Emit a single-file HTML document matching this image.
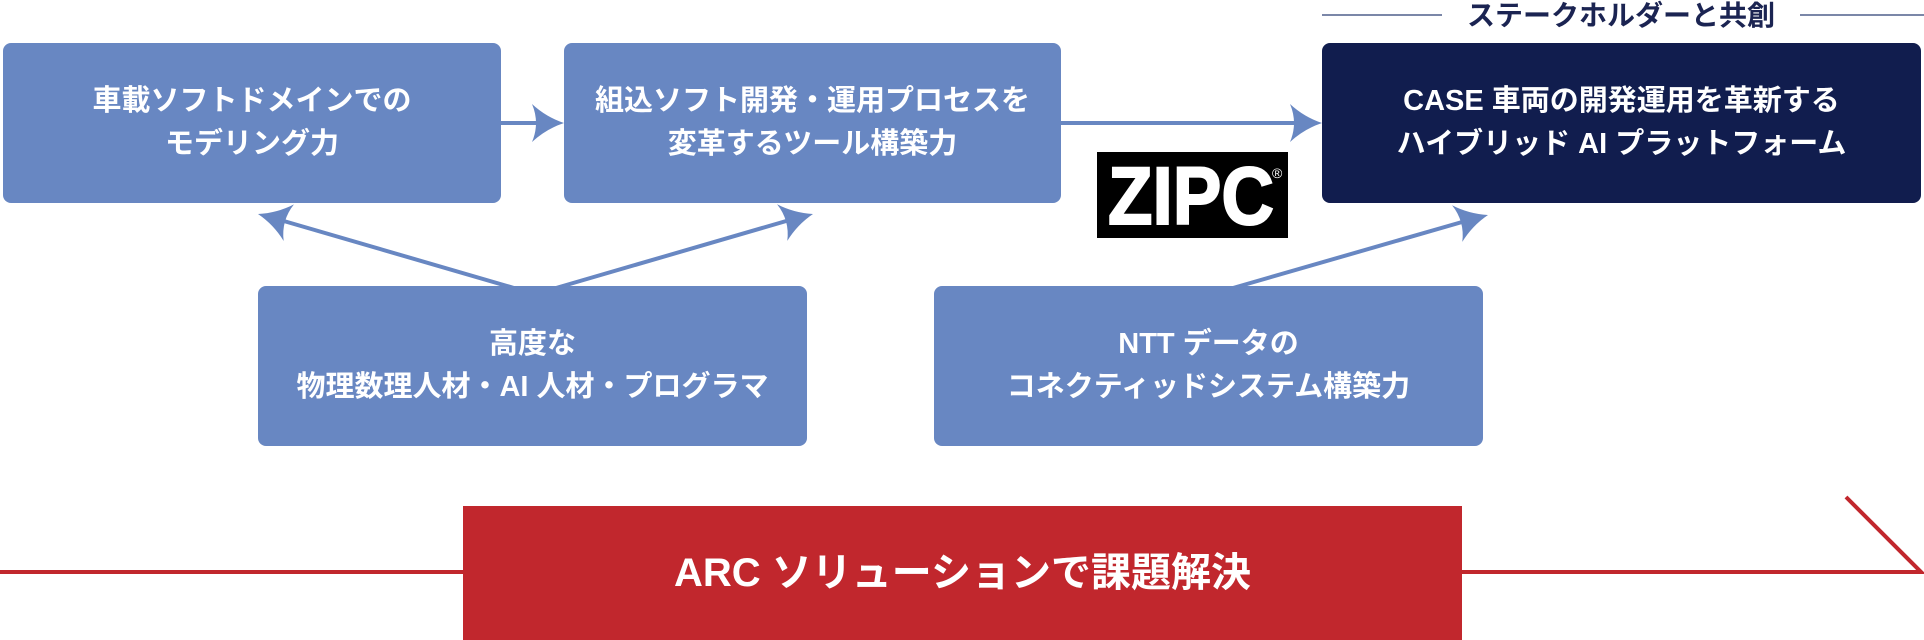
<!DOCTYPE html>
<html><head><meta charset="utf-8"><style>
html,body{margin:0;padding:0;background:#fff;}
body{width:1924px;height:640px;overflow:hidden;position:relative;font-family:"Liberation Sans","Noto Sans CJK JP",sans-serif;}
.box{position:absolute;border-radius:8px;background:#6887c2;color:#fff;font-weight:bold;font-size:29px;line-height:43px;display:flex;align-items:center;justify-content:center;text-align:center;}
</style></head><body>
<svg width="1924" height="640" style="position:absolute;left:0;top:0">
<g stroke="#6887c2" stroke-width="4" fill="none">
<line x1="501" y1="123" x2="540" y2="123"/>
<line x1="1061" y1="123" x2="1300" y2="123"/>
<line x1="514" y1="288" x2="270" y2="217"/>
<line x1="556" y1="288" x2="800" y2="217"/>
<line x1="1233" y1="288" x2="1476" y2="218"/>
</g>
<g fill="#6887c2">
<path transform="translate(564,123)" d="M0 0 Q-18 -6 -32 -19 Q-24 0 -32 19 Q-18 6 0 0Z"/>
<path transform="translate(1322,123)" d="M0 0 Q-18 -6 -32 -19 Q-24 0 -32 19 Q-18 6 0 0Z"/>
<path transform="translate(258,214) rotate(195.7)" d="M0 0 Q-18 -6 -32 -19 Q-24 0 -32 19 Q-18 6 0 0Z"/>
<path transform="translate(813,214) rotate(-15.6)" d="M0 0 Q-18 -6 -32 -19 Q-24 0 -32 19 Q-18 6 0 0Z"/>
<path transform="translate(1488,215) rotate(-15.6)" d="M0 0 Q-18 -6 -32 -19 Q-24 0 -32 19 Q-18 6 0 0Z"/>
</g>
<g stroke="#7b87a8" stroke-width="2">
<line x1="1322" y1="15" x2="1442" y2="15"/>
<line x1="1800" y1="15" x2="1924" y2="15"/>
</g>
<text x="1621" y="25" text-anchor="middle" font-size="28" font-weight="bold" fill="#1b2452" font-family="Liberation Sans, Noto Sans CJK JP, sans-serif">ステークホルダーと共創</text>
<g stroke="#c1272d" stroke-width="4" fill="none">
<line x1="0" y1="572" x2="470" y2="572"/>
<polyline points="1455,572 1921,572 1846,497"/>
</g>
<rect x="1097" y="152" width="191" height="86" fill="#000"/>
<text x="1108" y="224" font-size="82" font-weight="900" fill="#fff" font-family="Liberation Sans, sans-serif" textLength="166" lengthAdjust="spacingAndGlyphs" stroke="#fff" stroke-width="2">ZIPC</text>
<text x="1272" y="178" font-size="14" fill="#fff" font-family="Liberation Sans, sans-serif">®</text>
</svg>
<div class="box" style="left:3px;top:43px;width:498px;height:160px;">車載ソフトドメインでの<br>モデリング力</div>
<div class="box" style="left:564px;top:43px;width:497px;height:160px;">組込ソフト開発・運用プロセスを<br>変革するツール構築力</div>
<div class="box" style="left:1322px;top:43px;width:599px;height:160px;background:#111d4e;">CASE 車両の開発運用を革新する<br>ハイブリッド AI プラットフォーム</div>
<div class="box" style="left:258px;top:286px;width:549px;height:160px;">高度な<br>物理数理人材・AI 人材・プログラマ</div>
<div class="box" style="left:934px;top:286px;width:549px;height:160px;">NTT データの<br>コネクティッドシステム構築力</div>
<div class="box" style="left:463px;top:506px;width:999px;height:134px;border-radius:0;background:#c1272d;font-size:40px;">ARC ソリューションで課題解決</div>
</body></html>
